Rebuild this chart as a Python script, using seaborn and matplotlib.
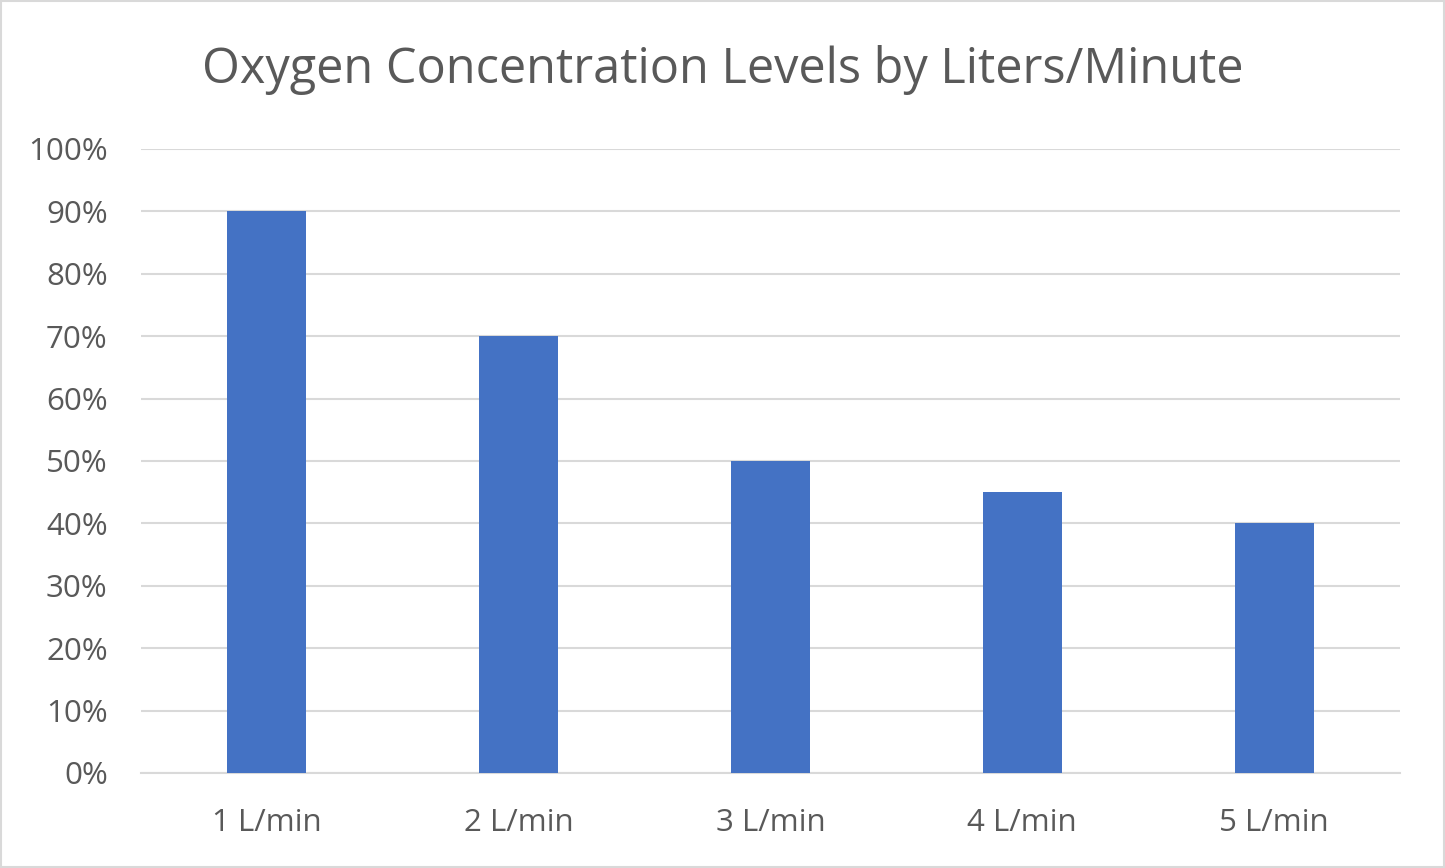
import matplotlib
matplotlib.use("Agg")
import matplotlib.pyplot as plt
import seaborn as sns
import pandas as pd
from matplotlib.ticker import PercentFormatter, MultipleLocator
from matplotlib.patches import Rectangle

categories = ["1 L/min", "2 L/min", "3 L/min", "4 L/min", "5 L/min"]
values = [0.90, 0.70, 0.50, 0.45, 0.40]
title = "Oxygen Concentration Levels by Liters/Minute"

sns.set_theme(style="white")
plt.rcParams['font.family'] = ['Open Sans', 'DejaVu Sans']

df = pd.DataFrame({"cat": categories, "val": values})

fig = plt.figure(figsize=(14.45, 8.68), dpi=100)
ax = fig.add_axes([141/1445, 1-773/868, (1400-141)/1445, (773-149)/868])

sns.barplot(data=df, x="cat", y="val", color="#4472C4", width=0.314,
            saturation=1, ax=ax, zorder=3, linewidth=0)

ax.set_ylim(0, 1)
ax.set_xlim(-0.5, 4.5)
ax.yaxis.set_major_locator(MultipleLocator(0.1))
ax.yaxis.set_major_formatter(PercentFormatter(1.0, decimals=0))
ax.grid(axis="y", color="#D9D9D9", linewidth=1.5, zorder=0)
ax.set_axisbelow(True)
for s in ["top", "right", "left"]:
    ax.spines[s].set_visible(False)
ax.spines["bottom"].set_color("#D9D9D9")
ax.spines["bottom"].set_linewidth(1.5)
ax.set_xlabel("")
ax.set_ylabel("")
ax.tick_params(axis="y", length=0, pad=24, labelsize=22.5, labelcolor="#595959")
ax.tick_params(axis="x", length=0, pad=25, labelsize=22.5, labelcolor="#595959")

fig.text(0.5, 1-70/868, title, ha="center", va="center", fontsize=35, color="#595959")

fig.patches.append(Rectangle((0.001, 0.001), 0.998, 0.998, transform=fig.transFigure,
                             fill=False, edgecolor="#D9D9D9", linewidth=1.5))

fig.savefig("out.png", dpi=100)
